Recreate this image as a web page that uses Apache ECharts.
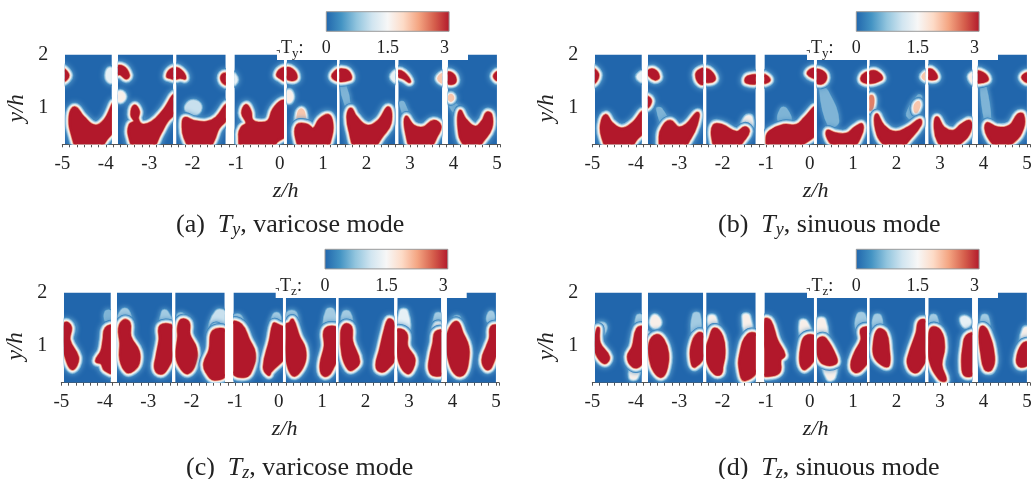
<!DOCTYPE html>
<html><head><meta charset="utf-8">
<style>html,body{margin:0;padding:0;background:#fff}#c{width:1035px;height:479px;filter:blur(0.45px)}</style>
<script src="https://cdn.jsdelivr.net/npm/echarts@6/dist/echarts.min.js"></script>
</head><body><div id="c"></div>
<script>
const zTicks=[-5,-4,-3,-2,-1,0,1,2,3,4,5];
const yTickLabelsAt=[1.03,1.92];
const colorbarTicks=[0,1.5,3];
const colorbarColors=['#2166ac','#4393c3','#92c5de','#d1e5f0','#f7f7f7','#fddbc7','#f4a582','#d6604d','#b2182b'];
const tiles=[[-4.94,-3.86],[-3.72,-2.45],[-2.38,-1.24],[-1.04,0.10],[0.165,1.32],[1.375,2.66],[2.73,3.74],[3.87,5.0]];
const tileBottom=0.4,tileTop=1.93;
// [tile, T value of the contour, outline in (z/h, y/h)]
const panelA=[
[0,3,[[-5.02,1.68],[-4.88,1.6],[-4.9,1.52],[-5.02,1.48]]],
[0,1.3,[[-3.97,1.58],[-3.9,1.68],[-3.8,1.6],[-3.8,1.48],[-3.92,1.48]]],
[0,3,[[-4.71,1.02],[-4.52,.86],[-4.25,.71],[-4.02,.81],[-3.8,1.1],[-3.78,.71],[-3.98,.5],[-4.21,.3],[-4.59,.3],[-4.76,.54],[-4.82,.88]]],
[1,3,[[-3.78,1.7],[-3.6,1.71],[-3.48,1.58],[-3.53,1.53],[-3.66,1.6],[-3.78,1.6]]],
[1,1.8,[[-3.75,1.21],[-3.66,1.28],[-3.58,1.21],[-3.66,1.14]]],
[1,3,[[-2.58,1.56],[-2.51,1.66],[-2.38,1.68],[-2.38,1.53],[-2.52,1.54]]],
[1,3,[[-3.34,1.05],[-3.25,.96],[-3.27,.83],[-3.17,.73],[-2.94,.77],[-2.68,.96],[-2.4,1.25],[-2.38,.99],[-2.6,.79],[-2.75,.59],[-2.98,.3],[-3.29,.3],[-3.46,.56],[-3.44,.73],[-3.33,.79],[-3.4,.9]]],
[2,3,[[-2.44,1.68],[-2.29,1.66],[-2.18,1.53],[-2.29,1.54],[-2.44,1.53]]],
[2,3,[[-1.31,1.58],[-1.18,1.58],[-1.18,1.43],[-1.31,1.47]]],
[2,1.0,[[-2.14,1.05],[-1.98,1.13],[-1.83,1.05],[-1.91,.93],[-2.1,.96]]],
[2,3,[[-2.18,.84],[-1.98,.79],[-1.68,.77],[-1.45,.85],[-1.2,1.08],[-1.18,.88],[-1.41,.68],[-1.52,.48],[-1.68,.3],[-1.98,.3],[-2.18,.52],[-2.22,.73]]],
[3,1.3,[[-1.1,1.6],[-1.0,1.5],[-1.1,1.42]]],
[3,3,[[-.05,1.58],[.03,1.67],[.15,1.68],[.13,1.5],[.01,1.54]]],
[3,3,[[-.85,.93],[-.77,1.06],[-.68,.96],[-.64,.81],[-.49,.76],[-.26,.79],[-.14,.99],[.05,1.13],[.16,1.1],[.16,.59],[-.07,.45],[-.22,.3],[-.83,.3],[-.92,.56],[-.87,.68],[-.75,.76]]],
[4,3,[[.12,1.68],[.28,1.67],[.38,1.54],[.28,1.5],[.12,1.56]]],
[4,1.8,[[.16,1.21],[.22,1.3],[.28,1.21],[.22,1.13]]],
[4,3,[[1.36,1.66],[1.22,1.56],[1.36,1.5]]],
[4,2,[[.43,.93],[.51,.99],[.57,.9],[.56,.72],[.43,.72]]],
[4,3,[[.41,.72],[.62,.73],[.78,.66],[.93,.82],[1.12,.89],[1.2,.76],[1.18,.54],[1.01,.3],[.55,.3],[.39,.51]]],
[5,3,[[1.32,1.64],[1.51,1.66],[1.62,1.58],[1.61,1.51],[1.32,1.5]]],
[5,1.2,[[2.58,1.55],[2.7,1.64],[2.7,1.47]]],
[5,.7,[[1.42,1.4],[1.5,1.4],[1.6,1.08],[1.52,1.08]]],
[5,3,[[1.64,1.0],[1.74,.88],[2.0,.71],[2.27,.79],[2.5,1.02],[2.54,.76],[2.35,.54],[2.08,.3],[1.77,.32],[1.62,.62],[1.57,.88]]],
[6,3,[[2.7,1.64],[2.85,1.61],[2.99,1.47],[2.85,1.53],[2.7,1.58]]],
[6,2,[[3.78,1.6],[3.65,1.52],[3.78,1.45]]],
[6,.7,[[2.78,1.1],[2.85,1.1],[2.96,.85],[2.9,.85]]],
[6,3,[[2.91,.86],[3.08,.71],[3.31,.68],[3.54,.79],[3.69,.71],[3.62,.56],[3.39,.3],[3.08,.3],[2.93,.56]]],
[7,3,[[3.83,1.6],[3.96,1.6],[4.04,1.5],[3.98,1.44],[3.83,1.47]]],
[7,2,[[3.89,1.19],[3.94,1.24],[3.99,1.19],[3.94,1.14]]],
[7,3,[[4.94,1.56],[5.02,1.62],[5.02,1.5]]],
[7,.7,[[3.9,1.1],[4.0,1.1],[4.2,.95],[4.1,.9]]],
[7,3,[[4.15,.96],[4.27,.82],[4.5,.69],[4.67,.79],[4.77,.93],[4.86,.9],[4.86,.68],[4.69,.48],[4.46,.3],[4.23,.42],[4.13,.65]]]
];
const panelB=[
[0,3,[[-5.02,1.68],[-4.88,1.6],[-4.92,1.48],[-5.02,1.44]]],
[0,1.3,[[-3.95,1.55],[-3.82,1.62],[-3.82,1.48]]],
[0,3,[[-4.69,.89],[-4.56,.76],[-4.32,.66],[-4.06,.76],[-3.82,.95],[-3.8,.65],[-3.98,.5],[-4.21,.3],[-4.59,.3],[-4.76,.52],[-4.79,.73]]],
[1,3,[[-3.71,1.64],[-3.58,1.66],[-3.48,1.55],[-3.56,1.51],[-3.69,1.58]]],
[1,3,[[-3.78,1.2],[-3.67,1.16],[-3.69,1.07],[-3.78,1.03]]],
[1,3,[[-2.6,1.58],[-2.52,1.66],[-2.38,1.66],[-2.38,1.47],[-2.51,1.44]]],
[1,.7,[[-3.5,1.0],[-3.42,1.0],[-3.25,.75],[-3.35,.7]]],
[1,3,[[-3.21,.79],[-3.02,.68],[-2.83,.73],[-2.58,.93],[-2.61,.73],[-2.75,.51],[-2.98,.3],[-3.37,.3],[-3.44,.52],[-3.38,.68]]],
[2,3,[[-2.44,1.66],[-2.29,1.64],[-2.2,1.5],[-2.44,1.49]]],
[2,3,[[-1.45,1.53],[-1.36,1.56],[-1.18,1.56],[-1.18,1.46],[-1.45,1.46]]],
[2,1.8,[[-1.52,.7],[-1.45,.85],[-1.36,.85],[-1.38,.65]]],
[2,3,[[-2.2,.72],[-2.02,.72],[-1.68,.6],[-1.49,.68],[-1.41,.62],[-1.52,.48],[-1.75,.3],[-2.1,.3],[-2.23,.52]]],
[3,3,[[-1.1,1.58],[-.93,1.5],[-1.1,1.45]]],
[3,.7,[[-.65,1.0],[-.55,1.0],[-.45,.8],[-.7,.8]]],
[3,3,[[-.9,.62],[-.6,.72],[-.3,.72],[-.1,.85],[.15,1.02],[.16,.62],[-.14,.42],[-.37,.3],[-.91,.34],[-.98,.51]]],
[3,3,[[-.03,1.6],[.05,1.67],[.16,1.66],[.16,1.54]]],
[4,3,[[.1,1.64],[.28,1.64],[.37,1.53],[.26,1.44],[.1,1.51]]],
[4,3,[[1.2,1.53],[1.28,1.6],[1.37,1.6],[1.37,1.47],[1.24,1.47]]],
[4,.7,[[.25,1.35],[.4,1.3],[.65,.8],[.45,.72]]],
[4,3,[[.41,.62],[.59,.58],[.85,.57],[1.05,.68],[1.2,.73],[1.16,.54],[.97,.36],[.66,.36],[.47,.45]]],
[5,3,[[1.32,1.58],[1.47,1.64],[1.62,1.58],[1.64,1.51],[1.32,1.46]]],
[5,2.6,[[1.34,1.15],[1.42,1.22],[1.46,1.15],[1.42,1.0],[1.34,1.0]]],
[5,.7,[[2.25,.92],[2.5,1.22],[2.56,1.2],[2.35,.85]]],
[5,2,[[2.42,1.05],[2.5,1.12],[2.52,1.05],[2.44,.95]]],
[5,2,[[2.6,1.55],[2.71,1.62],[2.71,1.5]]],
[5,3,[[1.54,.9],[1.7,.71],[1.97,.6],[2.27,.68],[2.53,.81],[2.54,.73],[2.31,.51],[2.0,.3],[1.7,.42],[1.54,.65]]],
[6,3,[[2.68,1.64],[2.81,1.66],[2.91,1.53],[2.68,1.54]]],
[6,1.8,[[3.69,1.55],[3.78,1.6],[3.78,1.45]]],
[6,3,[[2.93,.85],[3.08,.68],[3.31,.62],[3.5,.73],[3.68,.79],[3.68,.62],[3.5,.45],[3.16,.3],[2.96,.46],[2.89,.68]]],
[7,3,[[3.83,1.62],[3.98,1.61],[4.09,1.51],[4.0,1.47],[3.83,1.47]]],
[7,3,[[4.9,1.54],[5.02,1.6],[5.02,1.47]]],
[7,.7,[[3.95,1.4],[4.03,1.4],[4.15,.8],[4.05,.8]]],
[7,3,[[4.08,.75],[4.31,.68],[4.61,.71],[4.8,.9],[4.9,.9],[4.9,.68],[4.69,.45],[4.38,.36],[4.11,.54]]]
];
const panelC=[
[0,.9,[[-4.8,1.4],[-4.72,1.35],[-4.75,1.25],[-4.83,1.25]]],
[0,.6,[[-3.97,1.6],[-3.87,1.6],[-3.87,1.45],[-3.97,1.45]]],
[0,3,[[-4.9,1.41],[-4.79,1.34],[-4.82,1.12],[-4.63,.84],[-4.66,.7],[-4.76,.64],[-4.87,.79],[-4.94,1.01],[-4.97,1.29]]],
[0,3,[[-3.97,1.32],[-3.8,1.34],[-3.8,.59],[-3.99,.62],[-4.07,.73],[-4.19,.77],[-4.07,.93],[-4.02,1.12]]],
[1,.8,[[-3.6,1.62],[-3.48,1.62],[-3.44,1.45],[-3.66,1.45]]],
[1,.8,[[-2.66,1.6],[-2.58,1.6],[-2.45,1.35],[-2.68,1.35]]],
[1,3,[[-3.56,1.45],[-3.44,1.41],[-3.42,1.18],[-3.23,.93],[-3.23,.73],[-3.34,.62],[-3.49,.59],[-3.63,.79],[-3.63,1.07],[-3.66,1.32]]],
[1,3,[[-2.71,1.36],[-2.4,1.32],[-2.4,.95],[-2.58,.64],[-2.71,.56],[-2.83,.64],[-2.8,.84],[-2.73,1.12]]],
[2,.8,[[-2.3,1.55],[-2.2,1.55],[-2.1,1.42],[-2.3,1.42]]],
[2,1.0,[[-1.42,1.6],[-1.2,1.55],[-1.2,1.25],[-1.55,1.25]]],
[2,1.7,[[-1.48,1.35],[-1.4,1.35],[-1.38,1.22],[-1.52,1.22]]],
[2,3,[[-2.23,1.46],[-2.08,1.42],[-2.06,1.21],[-1.91,.98],[-1.93,.73],[-2.08,.57],[-2.23,.64],[-2.34,.84],[-2.3,1.18],[-2.3,1.35]]],
[2,3,[[-1.5,1.27],[-1.18,1.24],[-1.18,.59],[-1.47,.46],[-1.66,.59],[-1.7,.73],[-1.58,.95]]],
[3,.8,[[-1.02,1.52],[-.88,1.52],[-.85,1.35],[-1.04,1.35]]],
[3,3,[[-1.08,1.4],[-.87,1.38],[-.69,1.12],[-.56,.9],[-.62,.64],[-.77,.51],[-1.08,.59],[-1.14,.9]]],
[3,.8,[[-.1,1.55],[0,1.55],[0,1.4],[-.12,1.4]]],
[3,3,[[-.11,1.39],[-.04,1.38],[.18,1.27],[.18,.9],[-.19,.59],[-.23,.54],[-.33,.67],[-.19,1.12]]],
[4,.8,[[.22,1.58],[.38,1.58],[.38,1.4],[.22,1.4]]],
[4,.8,[[1.12,1.62],[1.25,1.62],[1.28,1.32],[1.08,1.32]]],
[4,3,[[.32,1.46],[.46,1.18],[.59,.98],[.59,.76],[.44,.56],[.32,.54],[.21,.73],[.13,1.07],[.13,1.35],[.26,1.41]]],
[4,3,[[1.08,1.3],[1.36,1.3],[1.36,.9],[1.25,.67],[1.12,.53],[1.0,.56],[.98,.73],[1.07,1.01]]],
[5,.9,[[1.5,1.58],[1.62,1.58],[1.65,1.38],[1.5,1.38]]],
[5,3,[[1.53,1.38],[1.66,1.34],[1.68,1.1],[1.84,.76],[1.72,.64],[1.61,.64],[1.48,.87],[1.45,1.24]]],
[5,3,[[2.53,1.46],[2.61,1.44],[2.72,1.27],[2.72,.9],[2.49,.64],[2.34,.6],[2.26,.7],[2.34,.95],[2.45,1.29]]],
[6,1.2,[[2.82,1.6],[2.93,1.6],[2.97,1.28],[2.8,1.28]]],
[6,.9,[[3.62,1.55],[3.72,1.55],[3.72,1.3],[3.6,1.3]]],
[6,1.8,[[3.62,1.38],[3.72,1.38],[3.74,1.25],[3.6,1.25]]],
[6,3,[[2.7,1.28],[2.92,1.24],[2.95,1.01],[3.11,.81],[3.07,.64],[2.96,.57],[2.8,.73],[2.7,1.07]]],
[6,3,[[3.62,1.25],[3.8,1.25],[3.8,.59],[3.6,.53],[3.48,.62],[3.5,.84],[3.57,1.07]]],
[7,.8,[[4.85,1.58],[4.92,1.58],[4.92,1.45],[4.82,1.45]]],
[7,.8,[[4.05,1.5],[4.15,1.5],[4.15,1.35],[4.02,1.35]]],
[7,3,[[4.1,1.42],[4.22,1.24],[4.35,1.01],[4.35,.79],[4.26,.56],[4.1,.54],[3.95,.73],[3.88,1.12],[3.95,1.32]]],
[7,3,[[4.9,1.34],[5.05,1.34],[5.05,1.07],[4.88,.67],[4.78,.64],[4.7,.79],[4.8,1.01],[4.87,1.15]]]
];
const panelD=[
[0,1.0,[[-4.86,1.38],[-4.72,1.38],[-4.75,1.24],[-4.85,1.24]]],
[0,1.6,[[-4.05,.7],[-3.95,.7],[-4,.5],[-4.1,.5]]],
[0,.8,[[-3.96,1.52],[-3.86,1.52],[-3.86,1.3],[-3.96,1.3]]],
[0,3,[[-4.86,1.32],[-4.84,1.07],[-4.63,.84],[-4.71,.74],[-4.86,.84],[-4.94,1.01],[-4.92,1.18]]],
[0,3,[[-3.96,1.31],[-3.82,1.32],[-3.82,.87],[-3.9,.7],[-4.06,.68],[-4.17,.84],[-4.06,1.01]]],
[1,1.8,[[-3.56,1.52],[-3.46,1.42],[-3.55,1.35],[-3.63,1.42]]],
[1,.9,[[-2.66,1.55],[-2.55,1.55],[-2.55,1.22],[-2.68,1.22]]],
[1,3,[[-3.78,1.21],[-3.69,1.14],[-3.78,1.05]]],
[1,3,[[-3.52,1.2],[-3.37,1.12],[-3.27,.9],[-3.29,.67],[-3.4,.51],[-3.56,.59],[-3.66,.79],[-3.67,1.07]]],
[1,3,[[-2.56,1.23],[-2.4,1.15],[-2.4,.9],[-2.64,.68],[-2.71,.76],[-2.71,1.01]]],
[2,1.7,[[-2.29,1.5],[-2.2,1.5],[-2.18,1.32],[-2.25,1.32]]],
[2,1.7,[[-1.5,1.52],[-1.42,1.52],[-1.36,1.22],[-1.44,1.22]]],
[2,3,[[-2.19,1.31],[-2.02,1.18],[-1.97,.9],[-2.02,.67],[-2.05,.56],[-2.18,.56],[-2.33,.73],[-2.37,.95],[-2.29,1.15]]],
[2,3,[[-1.41,1.21],[-1.18,1.17],[-1.18,.67],[-1.49,.45],[-1.59,.59],[-1.59,.87]]],
[3,3,[[-1.03,1.46],[-.91,1.44],[-.76,1.12],[-.59,.87],[-.68,.79],[-.7,.59],[-.87,.53],[-1.1,.56],[-1.1,.9],[-1.05,1.07]]],
[3,1.7,[[-.18,1.42],[-.1,1.42],[0,1.2],[-.15,1.18]]],
[3,3,[[-.08,1.18],[.16,1.15],[.16,.9],[-.1,.64],[-.2,.73],[-.18,1.01]]],
[4,1.7,[[.22,1.45],[.32,1.45],[.36,1.15],[.24,1.15]]],
[4,1.7,[[.36,.73],[.56,.73],[.54,.5],[.44,.48]]],
[4,.9,[[1.12,1.55],[1.25,1.55],[1.25,1.3],[1.1,1.3]]],
[4,3,[[.24,1.15],[.36,1.14],[.59,.84],[.59,.73],[.32,.73],[.2,.87],[.18,1.07]]],
[4,3,[[1.2,1.3],[1.38,1.3],[1.38,.87],[1.2,.64],[1.05,.59],[.97,.7],[1.05,.9],[1.2,1.12]]],
[5,.9,[[1.5,1.52],[1.62,1.52],[1.62,1.3],[1.5,1.3]]],
[5,2.5,[[1.34,1.15],[1.42,1.1],[1.34,1.0]]],
[5,3,[[1.58,1.29],[1.74,1.24],[1.81,.95],[1.81,.7],[1.7,.7],[1.51,.84],[1.49,1.07]]],
[5,3,[[2.54,1.44],[2.72,1.41],[2.72,.95],[2.54,.64],[2.39,.59],[2.27,.73],[2.31,.9],[2.47,1.24]]],
[6,.9,[[2.8,1.52],[2.9,1.52],[2.92,1.3],[2.8,1.3]]],
[6,1.2,[[3.5,1.48],[3.6,1.5],[3.68,1.42],[3.58,1.36]]],
[6,3,[[2.81,1.32],[2.99,1.28],[3.08,1.01],[3.02,.7],[3.12,.45],[2.99,.47],[2.77,.79],[2.75,1.12]]],
[6,3,[[3.62,1.19],[3.8,1.21],[3.8,.59],[3.58,.53],[3.52,.73],[3.55,1.01]]],
[7,.9,[[3.98,1.52],[4.08,1.52],[4.1,1.28],[3.98,1.28]]],
[7,1.5,[[4.95,1.3],[5.05,1.3],[5.05,1.04],[4.9,1.04]]],
[7,3,[[3.96,1.34],[4.08,1.27],[4.23,.84],[4.17,.63],[4.04,.64],[3.96,.9],[3.92,1.18]]],
[7,3,[[4.9,1.04],[5.05,1.06],[5.05,.76],[4.86,.68],[4.78,.79]]]
];

const BG='#2166ac';
const serif="'Liberation Serif','Times New Roman',serif";
// contour bands, low to high: value and colour
const bandValues=[0.2,0.35,0.55,0.75,0.95,1.2,1.5,1.9,2.4,3];
const bandColors=['#3680bc','#5a9ac9','#7fb4d6','#a3cbe2','#c8e0ee','#e6f0f5','#f8efe9','#f7c6ad','#e07f68','#b2182b'];

const panels=[
 {blobs:panelA,left:62.3,top:50.3,h:94,bar:[326.3,11.7],sub:'y',cap:'(a)  ',mode:', varicose mode',capX:176,capY:225,notch:[277,468]},
 {blobs:panelB,left:592.3,top:50.3,h:94,bar:[856.3,11.7],sub:'y',cap:'(b)  ',mode:', sinuous mode',capX:718,capY:225,notch:[807,998]},
 {blobs:panelC,left:61.3,top:288.3,h:94.4,bar:[325,249.3],sub:'z',cap:'(c)  ',mode:', varicose mode',capX:186,capY:468,notch:[275.7,466.7]},
 {blobs:panelD,left:592.3,top:288.3,h:94.4,bar:[856.3,249.3],sub:'z',cap:'(d)  ',mode:', sinuous mode',capX:718,capY:468,notch:[807,998]}
];

function tileRender(blobs){
 return function(params,api){
  const t=api.value(0), e=tiles[t];
  const p0=api.coord([e[0],tileTop]), p1=api.coord([e[1],tileBottom]);
  const box={x:p0[0],y:p0[1],width:p1[0]-p0[0],height:p1[1]-p0[1]};
  const kids=[{type:'rect',shape:box,style:{fill:BG}}];
  const mine=blobs.filter(b=>b[0]===t).slice().sort((a,b)=>a[1]-b[1]);
  mine.forEach(b=>{
    const pts=b[2].map(q=>api.coord(q));
    const n=Math.max(bandValues.filter(v=>v<=b[1]).length,1);
    for(let i=0;i<n-1;i++){
      const s={fill:bandColors[i],stroke:bandColors[i],lineWidth:(n-1-i)*1.05+2.5,lineJoin:'round'};
      if(i===0){s.shadowBlur=5;s.shadowColor=bandColors[1];}
      kids.push({type:'polygon',shape:{points:pts,smooth:0.45},style:s});
    }
    kids.push({type:'polygon',shape:{points:pts,smooth:0.45},style:{fill:bandColors[n-1],stroke:bandColors[n-1],lineWidth:2.5,lineJoin:'round'}});
  });
  return {type:'group',clipPath:{type:'rect',shape:box},children:kids};
 };
}
function barRender(params,api){
 const a=api.coord([0,1]),b=api.coord([3,0]);
 const stops=colorbarColors.map((c,i)=>({offset:i/(colorbarColors.length-1),color:c}));
 return {type:'rect',shape:{x:a[0],y:a[1],width:b[0]-a[0],height:b[1]-a[1]},
  style:{fill:{type:'linear',x:0,y:0,x2:1,y2:0,colorStops:stops},stroke:'#9a9a9a',lineWidth:1}};
}
const grid=[],xAxis=[],yAxis=[],series=[],graphic=[];
const axisCol='#555';
panels.forEach((p,i)=>{
 const gi=grid.length;
 grid.push({left:p.left,top:p.top,width:437.7,height:p.h});
 xAxis.push({gridIndex:gi,type:'value',min:-5,max:5.07,interval:1/6,name:'z/h',nameLocation:'middle',nameGap:36,
  nameTextStyle:{fontFamily:serif,fontStyle:'italic',fontSize:22,color:'#222',padding:[0,0,0,9]},
  axisLine:{show:true,lineStyle:{color:axisCol,width:1}},axisTick:{show:true,length:3,lineStyle:{color:axisCol}},
  splitLine:{show:false},
  axisLabel:{customValues:zTicks,margin:10,fontFamily:serif,fontSize:19,color:'#222',showMinLabel:true,showMaxLabel:true,hideOverlap:false,formatter:v=>String(v)}});
 yAxis.push({gridIndex:gi,type:'value',min:0.4,max:2,interval:0.2,
  axisLine:{show:true,lineStyle:{color:axisCol,width:1}},axisTick:{show:true,length:3,lineStyle:{color:axisCol}},
  splitLine:{show:false},
  axisLabel:{customValues:yTickLabelsAt,margin:14,fontFamily:serif,fontSize:20,color:'#222',formatter:v=>String(Math.round(v))}});
 series.push({type:'custom',xAxisIndex:gi,yAxisIndex:gi,coordinateSystem:'cartesian2d',clip:false,silent:true,
  renderItem:tileRender(p.blobs),data:tiles.map((e,k)=>[k]),encode:{x:[],y:[]}});
 // colour bar
 const bi=grid.length;
 grid.push({left:p.bar[0],top:p.bar[1],width:122.8,height:19.6});
 xAxis.push({gridIndex:bi,type:'value',z:30,min:0,max:3,interval:1.5,axisLine:{show:false},axisTick:{show:false},splitLine:{show:false},
  axisLabel:{customValues:colorbarTicks,margin:8,fontFamily:serif,fontSize:18,color:'#222',alignMaxLabel:'right',formatter:v=>String(v)}});
 yAxis.push({gridIndex:bi,type:'value',min:0,max:1,show:false});
 series.push({type:'custom',xAxisIndex:bi,yAxisIndex:bi,coordinateSystem:'cartesian2d',clip:false,silent:true,renderItem:barRender,data:[[0]],encode:{x:[],y:[]}});
 // notch behind legend text
 graphic.push({type:'rect',z:20,shape:{x:p.notch[0],y:p.top+2.5,width:p.notch[1]-p.notch[0],height:7.2},style:{fill:'#fff'}});
 graphic.push({type:'text',z:21,x:p.bar[0]-34,y:p.bar[1]+37,style:{text:'{t|T}{s|'+p.sub+'}{t|:}',align:'center',verticalAlign:'middle',
   rich:{t:{fontFamily:serif,fontSize:18,fill:'#222',color:'#222'},s:{fontFamily:serif,fontSize:13,fill:'#222',color:'#222',padding:[10,0,0,0]}}}});
 graphic.push({type:'text',z:21,x:p.left-45,y:p.top+58,rotation:Math.PI/2,style:{text:'y/h',align:'center',verticalAlign:'middle',fontFamily:serif,fontStyle:'italic',fontSize:23,fill:'#222'}});
 graphic.push({type:'text',z:21,x:p.capX,y:p.capY,style:{text:'{r|'+p.cap+'}{i|T}{s|'+p.sub+'}{r|'+p.mode+'}',align:'left',verticalAlign:'middle',
   rich:{r:{fontFamily:serif,fontSize:26,fill:'#222',color:'#222'},i:{fontFamily:serif,fontStyle:'italic',fontSize:26,fill:'#222',color:'#222'},s:{fontFamily:serif,fontStyle:'italic',fontSize:18,fill:'#222',color:'#222',padding:[11,0,0,0]}}}});
});
const chart=echarts.init(document.getElementById('c'),null,{renderer:'canvas'});
chart.setOption({animation:false,backgroundColor:'#fff',tooltip:{show:false},grid,xAxis,yAxis,series,graphic});
</script></body></html>
